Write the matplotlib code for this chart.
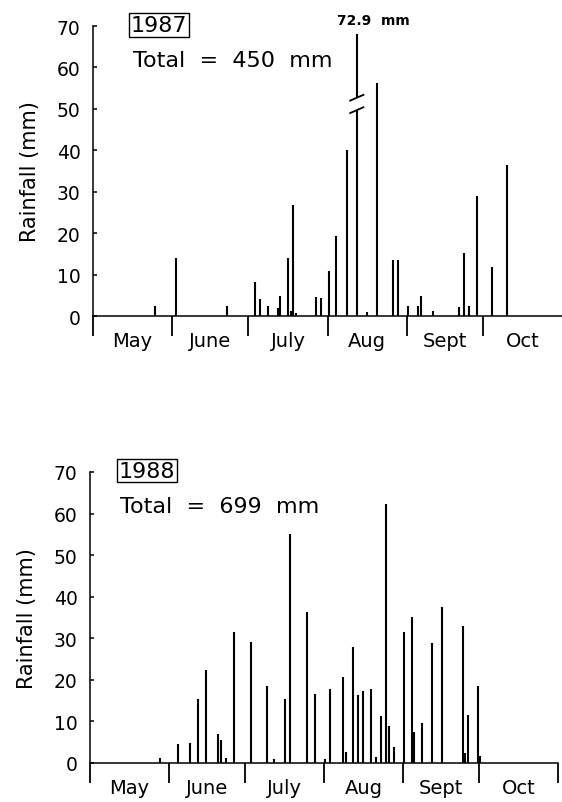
import numpy as np
import pandas as pd
import matplotlib
matplotlib.use("Agg")
import matplotlib.pyplot as plt

# daily rainfall (mm), dates
dates_1987 = ["05-25", "06-02", "06-22", "07-03", "07-05", "07-08", "07-12", "07-13",
              "07-16", "07-17", "07-18", "07-19", "07-27", "07-29", "08-01", "08-04",
              "08-08", "08-12", "08-16", "08-20", "08-26", "08-28", "09-01", "09-05",
              "09-06", "09-11", "09-21", "09-23", "09-25", "09-28", "10-04", "10-10"]
rain_1987 = [2.3, 14.1, 2.4, 8.2, 4.1, 2.3, 1.9, 4.8,
             13.9, 1.2, 26.8, 0.8, 4.7, 4.4, 10.8, 19.3,
             40.0, 72.9, 0.9, 56.2, 13.5, 13.5, 2.4, 2.4,
             4.8, 1.3, 2.1, 15.2, 2.5, 29.0, 11.9, 36.4]

dates_1988 = ["05-28", "06-04", "06-09", "06-12", "06-15", "06-20", "06-21", "06-23",
              "06-26", "07-03", "07-09", "07-12", "07-16", "07-18", "07-25", "07-28",
              "08-01", "08-03", "08-08", "08-09", "08-12", "08-14", "08-16", "08-19",
              "08-21", "08-23", "08-25", "08-26", "08-28", "09-01", "09-04", "09-05",
              "09-08", "09-12", "09-16", "09-24", "09-25", "09-26", "09-30", "10-01"]
rain_1988 = [1.3, 4.6, 4.9, 15.3, 22.4, 6.9, 5.6, 1.1,
             31.6, 29.2, 18.6, 1.0, 15.4, 55.1, 36.2, 16.7,
             1.0, 17.8, 20.7, 2.6, 28.0, 16.3, 17.2, 17.9,
             1.4, 11.4, 62.4, 9.0, 3.9, 31.6, 35.0, 7.5,
             9.6, 28.8, 37.6, 33.0, 2.3, 11.6, 18.4, 1.6]

months = ["May", "June", "July", "Aug", "Sept", "Oct"]
month_starts = ["05-01", "06-01", "07-01", "08-01", "09-01", "10-01", "11-01"]

years = ["1987", "1988"]
totals = [450, 699]


def day_offset(md_list, year):
    d = pd.to_datetime([f"{year}-{md}" for md in md_list])
    return np.asarray((d - pd.Timestamp(f"{year}-05-01")).days, dtype=float)


FS = 13.5
LW = 1.1

fig = plt.figure(figsize=(5.62, 8.03), dpi=100)
ax_top = fig.add_axes([0.1655, 0.6052, 0.8345, 0.3611])
ax_bot = fig.add_axes([0.1601, 0.0486, 0.8327, 0.3624])


def draw_panel(ax, year, md, rain, total, show_end_tick, box_x, total_x):
    x = day_offset(md, year) + 0.5
    rain = np.asarray(rain)
    cap = 68
    normal = rain <= cap
    ax.vlines(x[normal], 0, rain[normal], color="black", lw=1.5)

    # bars off the scale get a break
    for xi, ri in zip(x[~normal], rain[~normal]):
        ax.vlines(xi, 0, 49.8, color="black", lw=1.5)
        ax.vlines(xi, 52.6, cap, color="black", lw=1.5)
        ax.plot([xi - 2.6, xi + 2.6], [49.0, 50.4], color="black", lw=1.3)
        ax.plot([xi - 2.6, xi + 2.6], [52.0, 53.4], color="black", lw=1.3)
        ax.text(xi + 6.3, 71.4, f"{ri}  mm", ha="center", va="center",
                fontsize=10, fontweight="bold")

    starts = day_offset(month_starts, year)
    bounds = starts if show_end_tick else starts[:-1]
    centers = (starts[:-1] + starts[1:]) / 2

    ax.set_xlim(0, 184)
    ax.set_ylim(0, 70)
    ax.set_xticks(bounds)
    ax.set_xticklabels([])
    ax.set_xticks(centers, minor=True)
    ax.set_xticklabels(months, minor=True, fontsize=14)
    ax.tick_params(axis="x", which="major", direction="out", length=14.5, width=1.3)
    ax.tick_params(axis="x", which="minor", length=0, pad=11)
    for t in ax.get_xticklines(minor=False):
        t.set_clip_on(False)

    ax.set_yticks(np.arange(0, 71, 10))
    ax.tick_params(axis="y", direction="in", length=3, width=LW, labelsize=FS, pad=9)
    ax.set_ylabel("Rainfall (mm)", fontsize=15, labelpad=12)

    for side in ["top", "right"]:
        ax.spines[side].set_visible(False)
    for side in ["left", "bottom"]:
        ax.spines[side].set_linewidth(LW)

    ax.text(box_x, 70.3, year, fontsize=16, ha="center", va="center",
            bbox=dict(boxstyle="square,pad=0.08", fc="white", ec="black", lw=1.0))
    ax.text(total_x, 61.8, f"Total  =  {total}  mm", fontsize=16, ha="left", va="center")


draw_panel(ax_top, years[0], dates_1987, rain_1987, totals[0], False, 25.9, 15.7)
draw_panel(ax_bot, years[1], dates_1988, rain_1988, totals[1], True, 22.4, 11.8)

fig.savefig("out.png", dpi=100, facecolor="white")
